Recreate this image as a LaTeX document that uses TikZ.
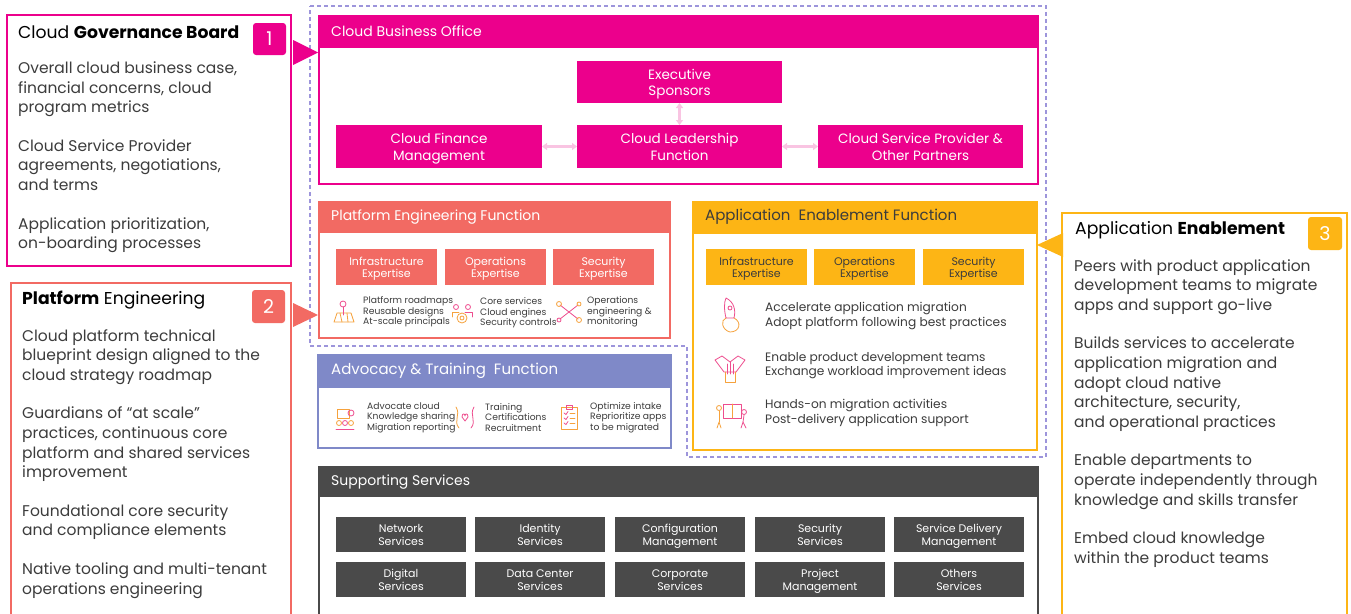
\documentclass[tikz,border=0pt]{standalone}
\usepackage{fontspec}
\setmainfont{Poppins}
\usetikzlibrary{arrows.meta}
\definecolor{mag}{HTML}{EC008C}
\definecolor{coral}{HTML}{F26A63}
\definecolor{peri}{HTML}{7F89C8}
\definecolor{amber}{HTML}{FDB515}
\definecolor{dgrey}{HTML}{4A4A4A}
\definecolor{lpink}{HTML}{F9C4E2}
\definecolor{dpurp}{HTML}{9D95DB}
\definecolor{txt}{HTML}{3C3C3C}
\definecolor{icpink}{HTML}{EE4D8E}
\definecolor{icor}{HTML}{F6A23C}
\newcommand\fsz[2]{\fontsize{#1}{#2}\selectfont}
\newcommand\bx[7]{\node[box,#6,minimum width={#4-#2},minimum height={#5-#3}] (#1) at ({(#2+#4)/2},{(#3+#5)/2}) {#7};}
% two-line box text, lowered a little by a taller strut on the first line
\newcommand\lw[1]{\rule{0pt}{1.1em}#1\vphantom{g}}
\tikzset{
  box/.style={rectangle,inner sep=0pt,outer sep=0pt,align=center},
  frame/.style={draw,line width=1.1pt},
  hdr/.style={anchor=west,inner sep=0pt,text=white,font=\fsz{14}{16}},
  expc/.style={fill=coral,text=white,font=\fsz{11}{12.5}},
  expa/.style={fill=amber,text=txt,font=\fsz{11}{12.5}},
  svc/.style={fill=dgrey,text=white,font=\fsz{11}{13}},
  cbob/.style={fill=mag,text=white,font=\fsz{13.5}{16.5}},
  small/.style={anchor=west,inner sep=0pt,align=left,text=txt,font=\fsz{9.2}{10.6}},
  appitem/.style={anchor=west,inner sep=0pt,align=left,text=txt,font=\fsz{12.2}{14.5}},
  body/.style={anchor=north west,inner sep=0pt,align=left,text=txt,font=\fsz{15.5}{19.6}},
  ttl/.style={anchor=west,inner sep=0pt,text=black,font=\fsz{17.2}{20}},
  badge/.style={rounded corners=3pt,text=white,font=\fsz{19}{20}},
  dbl/.style={{Triangle[length=5pt,width=7pt]}-{Triangle[length=5pt,width=7pt]},lpink,line width=2.5pt},
  ic/.style={line width=0.8pt,line cap=round,line join=round},
}
\begin{document}
\begin{tikzpicture}[x=1pt,y=-1pt]
\useasboundingbox (0,0) rectangle (1351,613);
\clip (0,0) rectangle (1351,613);
\fill[white] (0,0) rectangle (1351,613);

% dashed outline
\draw[dpurp,line width=1.1pt,dash pattern=on 4pt off 3pt] (310,6) -- (1046,6) -- (1046,457) -- (687,457) -- (687,346) -- (310,346) -- cycle;

% ---------- Cloud Governance Board
\bx{gov}{7}{15}{291}{266}{frame,draw=mag}{}
\node[ttl] (govt) at (18,32) {Cloud \textbf{Governance Board}};
\bx{b1}{253}{23}{286}{55}{badge,fill=mag}{1}
\node[body] (govb) at (18,61.5) {Overall cloud business case,\\financial concerns, cloud\\program metrics\\[19pt]Cloud Service Provider\\agreements, negotiations,\\and terms\\[19pt]Application prioritization,\\on-boarding processes};
\fill[mag] (293,40) -- (318,52.5) -- (293,65) -- cycle;

% ---------- Platform Engineering (left)
\bx{pe}{11}{283}{291}{640}{frame,draw=coral}{}
\node[ttl] (pet) at (22,300) {\textbf{Platform} Engineering};
\bx{b2}{252}{290}{285}{323}{badge,fill=coral}{2}
\node[body] (peb) at (22,329) {Cloud platform technical\\blueprint design aligned to the\\cloud strategy roadmap\\[19pt]Guardians of ``at scale''\\practices, continuous core\\platform and shared services\\improvement\\[19pt]Foundational core security\\and compliance elements\\[19pt]Native tooling and multi-tenant\\operations engineering};
\fill[coral] (293,303) -- (318,315) -- (293,327) -- cycle;

% ---------- Application Enablement (right)
\bx{ae}{1062}{213}{1347}{640}{frame,draw=amber}{}
\node[ttl] (aet) at (1075,230) {Application \textbf{Enablement}};
\bx{b3}{1308}{217}{1342}{250}{badge,fill=amber}{3}
\node[body] (aeb) at (1074,259) {Peers with product application\\development teams to migrate\\apps and support go-live\\[19pt]Builds services to accelerate\\application migration and\\adopt cloud native\\architecture, security,\\and operational practices\\[19pt]Enable departments to\\operate independently through\\knowledge and skills transfer\\[19pt]Embed cloud knowledge\\within the product teams};
\fill[amber] (1037,245) -- (1063,233) -- (1063,257) -- cycle;

% ---------- Cloud Business Office
\bx{cbo}{319}{16}{1038}{184}{frame,draw=mag}{}
\bx{cboh}{319}{16}{1038}{48}{fill=mag}{}
\node[hdr] (cbot) at (331,31) {Cloud Business Office};
\bx{exec}{577}{61}{782}{103}{cbob}{\lw{Executive\\Sponsors}}
\bx{fin}{336}{125}{542}{168}{cbob}{\lw{Cloud Finance\\Management}}
\bx{lead}{577}{125}{782}{168}{cbob}{\lw{Cloud Leadership\\Function}}
\bx{csp}{818}{125}{1023}{168}{cbob}{\lw{Cloud Service Provider \&\\Other Partners}}
\draw[dbl] (fin.east) -- (lead.west);
\draw[dbl] (lead.east) -- (csp.west);
\draw[dbl] (exec.south) -- (lead.north);

% ---------- Platform Engineering Function
\bx{pef}{319}{202}{670}{338}{frame,draw=coral}{}
\bx{pefh}{319}{202}{670}{233}{fill=coral}{}
\node[hdr] (peft) at (331,217) {Platform Engineering Function};
\bx{pinf}{336}{249}{437}{285}{expc}{\lw{Infrastructure\\Expertise}}
\bx{pops}{445}{249}{546}{285}{expc}{\lw{Operations\\Expertise}}
\bx{psec}{553}{249}{654}{285}{expc}{\lw{Security\\Expertise}}
\node[small] (pt1) at (363,312) {Platform roadmaps\\Reusable designs\\At-scale principals};
\node[small] (pt2) at (480,313) {Core services\\Cloud engines\\Security controls};
\node[small] (pt3) at (587,312) {Operations\\engineering \&\\monitoring};
% icons
\begin{scope}[shift={(344,313)},ic]
  \draw[icor] (-10,9) -- (-7,0) -- (7,0) -- (10,9) -- cycle;
  \draw[icor] (-4,0) -- (-2,9); \draw[icor] (3,0) -- (4,9);
  \draw[icpink] (-1,-9) circle (3); \draw[icpink] (-1,-6) -- (-1,2);
\end{scope}
\begin{scope}[shift={(462,313)},ic]
  \draw[icor] (0,5) circle (5); \draw[icor] (0,5) circle (2);
  \draw[icpink] (-6,-6) circle (2.5); \draw[icpink] (6,-6) circle (2.5);
  \draw[icor] (-10,4) -- (-10,-1) -- (-3,-1); \draw[icpink] (10,4) -- (10,-1) -- (3,-1);
\end{scope}
\begin{scope}[shift={(569,312)},ic]
  \draw[icpink] (-9,-7) -- (9,7); \draw[icpink] (-9,7) -- (9,-7);
  \draw[icor] (-10,-8) circle (2.5); \draw[icor] (10,8) circle (2.5);
  \draw[icpink] (-10,8) circle (2); \draw[icor] (10,-8) circle (2);
\end{scope}

% ---------- Advocacy & Training Function
\bx{adv}{318}{355}{671}{448}{frame,draw=peri}{}
\bx{advh}{318}{355}{671}{388}{fill=peri}{}
\node[hdr,font=\fsz{15}{17}] (advt) at (331,371) {Advocacy \& Training \ Function};
\node[small] (at1) at (367,417.5) {Advocate cloud\\Knowledge sharing\\Migration reporting};
\node[small] (at2) at (485,417.5) {Training\\Certifications\\Recruitment};
\node[small] (at3) at (590,417.5) {Optimize intake\\Reprioritize apps\\to be migrated};
\begin{scope}[shift={(345,418)},ic]
  \draw[icor] (-8,-9) rectangle (4,0);
  \draw[icpink] (6,-5) circle (3);
  \draw[icor] (-6,5) circle (2.5); \draw[icpink] (0,5) circle (2.5); \draw[icor] (6,5) circle (2.5);
  \draw[icpink] (-9,11) -- (9,11);
\end{scope}
\begin{scope}[shift={(465,417)},ic]
  \draw[icor] (-9,-10) .. controls (-4,-2) and (-12,4) .. (-6,11);
  \draw[icpink] (9,-10) .. controls (4,-2) and (12,4) .. (6,11);
  \draw[icpink] (-3,0) .. controls (-3,-4) and (0,-4) .. (0,-1) .. controls (0,-4) and (3,-4) .. (3,0) -- (0,4) -- cycle;
\end{scope}
\begin{scope}[shift={(569,418)},ic]
  \draw[icor] (-8,-11) rectangle (8,11);
  \draw[icpink] (-3,-13) rectangle (3,-9);
  \foreach \yy in {-5,0,5} {\draw[icpink] (-5,\yy) -- (-3,\yy+1.5) -- (-1,\yy-1.5); \draw[icor] (1,\yy) -- (6,\yy);}
\end{scope}

% ---------- Application Enablement Function
\bx{aef}{693}{202}{1037}{450}{frame,draw=amber}{}
\bx{aefh}{693}{202}{1037}{234}{fill=amber}{}
\node[hdr,text=txt,font=\fsz{15}{17}] (aeft) at (705,217) {Application \ Enablement Function};
\bx{ainf}{706}{249}{807}{285}{expa}{\lw{Infrastructure\\Expertise}}
\bx{aops}{814}{249}{915}{285}{expa}{\lw{Operations\\Expertise}}
\bx{asec}{923}{249}{1024}{285}{expa}{\lw{Security\\Expertise}}
\node[appitem] (ai1) at (765,316) {Accelerate application migration\\Adopt platform following best practices};
\node[appitem] (ai2) at (765,365.5) {Enable product development teams\\Exchange workload improvement ideas};
\node[appitem] (ai3) at (765,413) {Hands-on migration activities\\Post-delivery application support};
\begin{scope}[shift={(730,316)},ic]
  \draw[icpink] (-4,-18) .. controls (4,-14) and (6,-6) .. (4,2) -- (-4,2) .. controls (-6,-6) and (-6,-14) .. (-4,-18);
  \draw[icpink] (0,-8) circle (2);
  \draw[icor] (-4,2) .. controls (-10,4) and (-8,14) .. (0,16) .. controls (10,16) and (12,6) .. (4,2);
\end{scope}
\begin{scope}[shift={(730,368)},ic]
  \draw[icpink] (-15,-8) -- (-8,-12) -- (0,-6) -- (8,-12) -- (15,-8) -- (6,4) -- (-6,4) -- cycle;
  \draw[icor] (-5,4) -- (-5,14) -- (5,14) -- (5,4);
  \draw[icpink] (-3,-4) -- (-3,6); \draw[icpink] (0,-6) -- (0,6); \draw[icpink] (3,-4) -- (3,6);
\end{scope}
\begin{scope}[shift={(731,414)},ic]
  \draw[icpink] (-8,-10) rectangle (10,4);
  \draw[icor] (1,-10) -- (1,4);
  \draw[icor] (-12,-6) circle (2.5); \draw[icor] (-12,-3) -- (-12,8); \draw[icor] (-14,14) -- (-12,8) -- (-10,14);
  \draw[icpink] (13,-2) circle (2.5); \draw[icpink] (13,1) -- (12,8); \draw[icpink] (10,14) -- (12,8) -- (15,14);
\end{scope}

% ---------- Supporting Services
\bx{sup}{319}{467}{1038}{640}{frame,draw=dgrey}{}
\bx{suph}{319}{467}{1038}{497}{fill=dgrey}{}
\node[hdr] (supt) at (331,482) {Supporting Services};
\bx{s1}{336}{517}{466}{552}{svc}{\lw{Network\\Services}}
\bx{s2}{475}{517}{605}{552}{svc}{\lw{Identity\\Services}}
\bx{s3}{615}{517}{745}{552}{svc}{\lw{Configuration\\Management}}
\bx{s4}{755}{517}{885}{552}{svc}{\lw{Security\\Services}}
\bx{s5}{894}{517}{1024}{552}{svc}{\lw{Service Delivery\\Management}}
\bx{s6}{336}{562}{466}{597}{svc}{\lw{Digital\\Services}}
\bx{s7}{475}{562}{605}{597}{svc}{\lw{Data Center\\Services}}
\bx{s8}{615}{562}{745}{597}{svc}{\lw{Corporate\\Services}}
\bx{s9}{755}{562}{885}{597}{svc}{\lw{Project\\Management}}
\bx{s10}{894}{562}{1024}{597}{svc}{\lw{Others\\Services}}
\end{tikzpicture}
\end{document}
